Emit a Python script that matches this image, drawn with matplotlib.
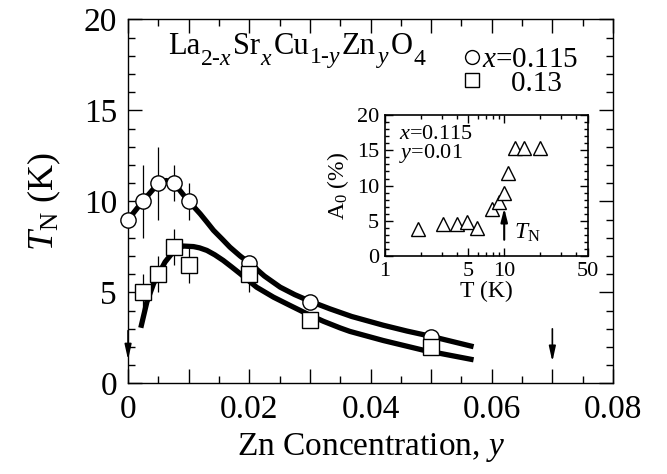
import matplotlib
matplotlib.use('Agg')
import matplotlib.pyplot as plt
from matplotlib.lines import Line2D
from matplotlib.ticker import MultipleLocator, FixedLocator, FuncFormatter, NullFormatter

plt.rcParams['font.family'] = ['Liberation Serif', 'DejaVu Serif']
plt.rcParams['mathtext.fontset'] = 'custom'
plt.rcParams['mathtext.rm'] = 'Liberation Serif'
plt.rcParams['mathtext.it'] = 'Liberation Serif:italic'

# T_N vs Zn concentration, x=0.115 (circles)
y_115 = [0.0, 0.0025, 0.005, 0.0075, 0.01, 0.02, 0.03, 0.05]
tn_115 = [9.0, 10.0, 11.0, 11.0, 10.0, 6.6, 4.5, 2.55]
err_115 = [0, 2.0, 2.0, 1.0, 1.0, 0, 0, 0]

# x=0.13 (squares)
y_13 = [0.0025, 0.005, 0.0075, 0.01, 0.02, 0.03, 0.05]
tn_13 = [5.0, 6.0, 7.5, 6.5, 6.0, 3.5, 2.0]
err_13 = [1.0, 1.0, 1.0, 1.0, 1.0, 0, 0]

# guide-to-the-eye curves
fit_115_y = [0.0, 0.0024, 0.005, 0.0063, 0.0076, 0.0100, 0.0110, 0.0119, 0.0130, 0.0141, 0.0155,
             0.0168, 0.0185, 0.0201, 0.0225, 0.0251, 0.0275, 0.030, 0.0333, 0.0369, 0.0421,
             0.046, 0.0501, 0.057]
fit_115_t = [9.0, 10.0, 11.0, 11.15, 11.0, 10.0, 9.65, 9.32, 8.87, 8.41, 7.94,
             7.49, 7.0, 6.6, 5.9, 5.29, 4.88, 4.52, 4.1, 3.68, 3.2,
             2.88, 2.58, 2.02]
fit_13_y = [0.0021, 0.0031, 0.0042, 0.0061, 0.0076, 0.0091, 0.0108, 0.0118, 0.013, 0.0143,
            0.0157, 0.0171, 0.0185, 0.0212, 0.024, 0.0267, 0.0295, 0.0322, 0.035, 0.0366,
            0.0421, 0.0487, 0.057]
fit_13_t = [3.06, 4.47, 5.48, 6.67, 7.3, 7.55, 7.52, 7.45, 7.31, 7.07,
            6.76, 6.4, 6.03, 5.29, 4.74, 4.29, 3.83, 3.42, 3.05, 2.86,
            2.36, 1.83, 1.3]

# arrows marking T_N limits
arrow_y = [0.0, 0.07]
arrow_top = [2.9, 3.0]
arrow_tip = [1.3, 1.2]

# inset: A0 vs T for x=0.115, y=0.01
inset_T = [1.9, 3.08, 4.04, 4.9, 5.94, 7.94, 9.03, 9.94, 10.8, 12.4, 14.6, 19.9]
inset_A0 = [3.8, 4.55, 4.55, 4.8, 4.0, 6.7, 7.6, 8.9, 11.8, 15.4, 15.4, 15.4]

# chemical formula, pieces as (text, is_subscript)
formula = [('La', False), ('$\\mathrm{2\\text{-}}x$', True), ('Sr', False), ('$x$', True),
           ('Cu', False), ('$\\mathrm{1\\text{-}}y$', True), ('Zn', False), ('$y$', True),
           ('O', False), ('4', True)]

fig = plt.figure(figsize=(6.67, 4.74), dpi=100)
ax = fig.add_axes([0.192, 0.191, 0.727, 0.768])

ax.plot(fit_115_y, fit_115_t, color='black', lw=3.8, solid_capstyle='butt', solid_joinstyle='round', zorder=2)
ax.plot(fit_13_y, fit_13_t, color='black', lw=3.8, solid_capstyle='butt', solid_joinstyle='round', zorder=2)

ax.errorbar(y_115, tn_115, yerr=err_115, fmt='none', ecolor='black', elinewidth=0.9, capsize=0, zorder=1)
ax.errorbar(y_13, tn_13, yerr=err_13, fmt='none', ecolor='black', elinewidth=0.9, capsize=0, zorder=1)
ax.plot(y_115, tn_115, 'o', ms=11, mfc='white', mec='black', mew=1.0, zorder=3, clip_on=False)
ax.plot(y_13, tn_13, 's', ms=11.5, mfc='white', mec='black', mew=1.0, zorder=4, clip_on=False)

for xa, y0, y1 in zip(arrow_y, arrow_top, arrow_tip):
    ax.annotate('', xy=(xa, y1), xytext=(xa, y0),
                arrowprops=dict(arrowstyle='-|>,head_length=0.9,head_width=0.2',
                                color='black', lw=1.2, shrinkA=0, shrinkB=0),
                annotation_clip=False)

ax.set_xlim(0, 0.08)
ax.set_ylim(0, 20)
ax.xaxis.set_major_locator(MultipleLocator(0.01))
ax.xaxis.set_minor_locator(MultipleLocator(0.005))
ax.xaxis.set_major_formatter(FuncFormatter(
    lambda v, p: ('0' if abs(v) < 1e-9 else '%g' % round(v, 3)) if round(v / 0.01) % 2 == 0 else ''))
ax.yaxis.set_major_locator(MultipleLocator(5))
ax.yaxis.set_minor_locator(MultipleLocator(1))
ax.tick_params(which='both', direction='in', top=True, right=True, labelsize=24, width=1.0)
ax.tick_params(which='major', length=10, pad=8)
ax.tick_params(which='minor', length=5)
for s in ax.spines.values():
    s.set_linewidth(1.0)

ax.set_xlabel('Zn Concentration, $y$', fontsize=24, labelpad=4)
ax.set_ylabel('$T$$_\\mathrm{N}$ (K)', fontsize=26, labelpad=15)

# formula drawn piece by piece so subscripts keep their size
first = ax.text(0.082, 0.885, formula[0][0], transform=ax.transAxes, fontsize=22, va='bottom', ha='left')
prev = first
for txt, sub in formula[1:]:
    if sub:
        prev = ax.annotate(txt, xy=(1, 0), xycoords=(prev, first), xytext=(0.3, -6),
                           textcoords='offset points', fontsize=17, va='bottom', ha='left')
    else:
        prev = ax.annotate(txt, xy=(1, 0), xycoords=(prev, first), xytext=(0.3, 0),
                           textcoords='offset points', fontsize=22, va='bottom', ha='left')

handles = [Line2D([0], [0], marker='o', ls='none', ms=10, mfc='white', mec='black'),
           Line2D([0], [0], marker='s', ls='none', ms=10.5, mfc='white', mec='black')]
ax.legend(handles, ['$x$=0.115', '    0.13'], loc='upper left', bbox_to_anchor=(0.685, 0.925),
          frameon=False, fontsize=21, handletextpad=-0.05, labelspacing=-0.1, borderpad=0,
          borderaxespad=0, handlelength=0.8)

# inset
ins = fig.add_axes([0.577, 0.460, 0.304, 0.297])
ins.plot(inset_T, inset_A0, '^', ms=9.5, mfc='white', mec='black', mew=1.0)
ins.annotate('', xy=(10, 6.8), xytext=(10, 2.3),
             arrowprops=dict(arrowstyle='-|>,head_length=0.8,head_width=0.2',
                             color='black', lw=1.5, shrinkA=0, shrinkB=0))
ins.text(12.0, 3.3, '$T$$_\\mathrm{N}$', fontsize=17, va='center', ha='left')
ins.text(0.07, 0.93, '$x$=0.115\n$y$=0.01', transform=ins.transAxes, fontsize=16,
         va='top', ha='left', linespacing=0.85)
ins.set_xscale('log')
ins.set_xlim(1, 50)
ins.set_ylim(0, 20)
ins.xaxis.set_major_locator(FixedLocator([1, 5, 10, 50]))
ins.xaxis.set_major_formatter(FuncFormatter(lambda v, p: '%d' % v))
ins.xaxis.set_minor_locator(FixedLocator([2, 3, 4, 6, 7, 8, 9, 20, 30, 40]))
ins.xaxis.set_minor_formatter(NullFormatter())
ins.yaxis.set_major_locator(MultipleLocator(5))
ins.yaxis.set_minor_locator(MultipleLocator(1))
ins.tick_params(which='both', direction='in', top=True, right=True, labelsize=16, width=1.0)
ins.tick_params(which='major', length=6, pad=4)
ins.tick_params(which='minor', length=3)
for s in ins.spines.values():
    s.set_linewidth(1.2)
ins.set_xlabel('T (K)', fontsize=17, labelpad=0)
ins.set_ylabel('A$_\\mathrm{0}$ (%)', fontsize=17, labelpad=4)

fig.savefig('out.png', dpi=100)
